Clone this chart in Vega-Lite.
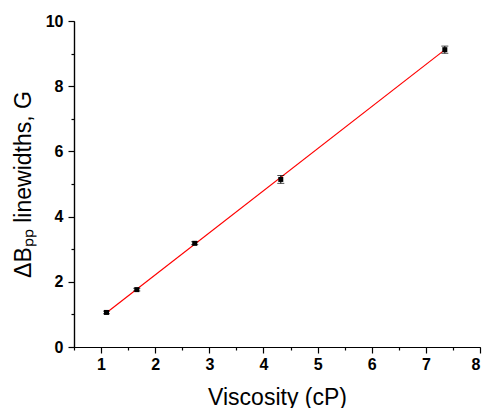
{
  "$schema": "https://vega.github.io/schema/vega-lite/v6.json",
  "width": 406,
  "height": 326,
  "autosize": {"type": "none"},
  "padding": {"left": 74, "top": 21, "right": 5, "bottom": 61},
  "config": {
    "view": {"stroke": null},
    "axis": {
      "grid": false,
      "domainColor": "black",
      "domainWidth": 1.2,
      "tickColor": "black",
      "tickWidth": 1.2,
      "labelColor": "black",
      "labelFont": "Liberation Sans",
      "labelFontWeight": "bold",
      "labelFontSize": 16,
      "titleFont": "Liberation Sans",
      "titleFontWeight": "normal",
      "titleFontSize": 23,
      "titleColor": "black"
    }
  },
  "datasets": {
    "pts": [
      {"viscosity": 1.1, "width": 1.06, "lo": 1.02, "hi": 1.10},
      {"viscosity": 1.66, "width": 1.76, "lo": 1.72, "hi": 1.80},
      {"viscosity": 2.73, "width": 3.18, "lo": 3.14, "hi": 3.23},
      {"viscosity": 4.32, "width": 5.14, "lo": 5.02, "hi": 5.26},
      {"viscosity": 7.35, "width": 9.12, "lo": 9.01, "hi": 9.23}
    ],
    "fit": [
      {"viscosity": 1.1, "width": 1.05},
      {"viscosity": 7.36, "width": 9.13}
    ]
  },
  "layer": [
    {
      "data": {"name": "fit"},
      "mark": {"type": "line", "color": "#ff0000", "strokeWidth": 1.2},
      "encoding": {
        "x": {
          "field": "viscosity", "type": "quantitative",
          "scale": {"domain": [0.5, 8], "nice": false, "zero": false},
          "axis": {"orient": "bottom", "values": [1, 2, 3, 4, 5, 6, 7, 8], "tickSize": 6, "labelPadding": 3, "title": "Viscosity (cP)", "titlePadding": 14}
        },
        "y": {
          "field": "width", "type": "quantitative",
          "scale": {"domain": [0, 10], "nice": false},
          "axis": {"orient": "left", "values": [0, 2, 4, 6, 8, 10], "tickSize": 6, "labelPadding": 5, "title": "ΔBₚₚ linewidths, G", "titlePadding": 10}
        }
      }
    },
    {
      "data": {"name": "pts"},
      "mark": {"type": "rule", "color": "black", "strokeWidth": 1},
      "encoding": {
        "x": {
          "field": "viscosity", "type": "quantitative",
          "axis": {"orient": "bottom", "values": [0.5, 1.5, 2.5, 3.5, 4.5, 5.5, 6.5, 7.5], "tickSize": 3, "labels": false, "title": null}
        },
        "y": {
          "field": "lo", "type": "quantitative",
          "axis": {"orient": "left", "values": [1, 3, 5, 7, 9], "tickSize": 3, "labels": false, "title": null}
        },
        "y2": {"field": "hi"}
      }
    },
    {
      "data": {"name": "pts"},
      "mark": {"type": "tick", "orient": "horizontal", "color": "black", "size": 7, "thickness": 1},
      "encoding": {
        "x": {"field": "viscosity", "type": "quantitative", "axis": null},
        "y": {"field": "lo", "type": "quantitative", "axis": null}
      }
    },
    {
      "data": {"name": "pts"},
      "mark": {"type": "tick", "orient": "horizontal", "color": "black", "size": 7, "thickness": 1},
      "encoding": {
        "x": {"field": "viscosity", "type": "quantitative", "axis": null},
        "y": {"field": "hi", "type": "quantitative", "axis": null}
      }
    },
    {
      "data": {"name": "pts"},
      "mark": {"type": "point", "shape": "square", "filled": true, "color": "black", "size": 25, "opacity": 1},
      "encoding": {
        "x": {"field": "viscosity", "type": "quantitative", "axis": null},
        "y": {"field": "width", "type": "quantitative", "axis": null}
      }
    }
  ],
  "resolve": {"axis": {"x": "independent", "y": "independent"}}
}
